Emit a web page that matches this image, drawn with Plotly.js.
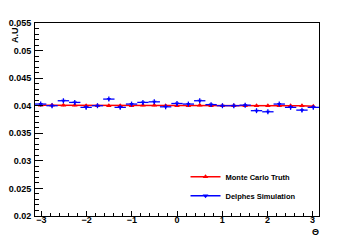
<!DOCTYPE html>
<html><head><meta charset="utf-8">
<script src="https://cdn.plot.ly/plotly-3.0.1.min.js"></script>
<style>html,body{margin:0;padding:0;background:#fff}#c{width:355px;height:240px}</style>
</head><body><div id="c"></div>
<script>
const binCenters = [-3.0159,-2.7646,-2.5133,-2.2619,-2.0106,-1.7593,-1.5080,-1.2566,-1.0053,-0.7540,-0.5027,-0.2513,0,0.2513,0.5027,0.7540,1.0053,1.2566,1.5080,1.7593,2.0106,2.2619,2.5133,2.7646,3.0159];
const binHalfWidth = [0.1257,0.1257,0.1257,0.1257,0.1257,0.1257,0.1257,0.1257,0.1257,0.1257,0.1257,0.1257,0.1257,0.1257,0.1257,0.1257,0.1257,0.1257,0.1257,0.1257,0.1257,0.1257,0.1257,0.1257,0.1257];
const mcTruth = [0.0401,0.0401,0.0401,0.0401,0.0400,0.0400,0.0400,0.0400,0.0400,0.0401,0.0401,0.0400,0.0400,0.0400,0.0401,0.0400,0.0400,0.0400,0.0400,0.0400,0.0400,0.0400,0.0400,0.0400,0.0399];
const mcErr = [0.0002,0.0002,0.0002,0.0002,0.0002,0.0002,0.0002,0.0002,0.0002,0.0002,0.0002,0.0002,0.0002,0.0002,0.0002,0.0002,0.0002,0.0002,0.0002,0.0002,0.0002,0.0002,0.0002,0.0002,0.0002];
const delphes = [0.0403,0.0400,0.0409,0.0406,0.0397,0.0400,0.0412,0.0397,0.0403,0.0406,0.0407,0.0398,0.0404,0.0403,0.0409,0.0402,0.0400,0.0400,0.0401,0.0391,0.0389,0.0403,0.0397,0.0392,0.0397];
const delphesErr = [0.00045,0.00045,0.00045,0.00045,0.00045,0.00045,0.00045,0.00045,0.00045,0.00045,0.00045,0.00045,0.00045,0.00045,0.00045,0.00045,0.00045,0.00045,0.00045,0.00045,0.00045,0.00045,0.00045,0.00045,0.00045];
const seriesNames = ['Monte Carlo Truth','Delphes Simulation'];
const xTicks = [-3,-2,-1,0,1,2,3];
const yTicks = [0.02,0.025,0.03,0.035,0.04,0.045,0.05,0.055];
const yTickText = ['0.02','0.025','0.03','0.035','0.04','0.045','0.05','0.055'];

const F = {family:'Liberation Sans, Arial, sans-serif', size:9, color:'#000', weight:'bold'};

const traces = [
 {x:binCenters, y:mcTruth, name:seriesNames[0], type:'scatter', mode:'lines+markers',
  line:{color:'#ff0000', width:1.5}, marker:{symbol:'triangle-up', size:5, color:'#ff0000'},
  error_y:{type:'data', array:mcErr, color:'#ff0000', thickness:1, width:0}},
 {x:binCenters, y:delphes, name:seriesNames[1], type:'scatter', mode:'markers', showlegend:false,
  marker:{symbol:'triangle-down', size:4, color:'#0000ff'},
  error_x:{type:'data', array:binHalfWidth, color:'#0000ff', thickness:1.3, width:0},
  error_y:{type:'data', array:delphesErr, color:'#0000ff', thickness:1.3, width:0}},
 {x:[null], y:[null], name:seriesNames[1], type:'scatter', mode:'lines+markers', showlegend:true,
  line:{color:'#0000ff', width:1.5}, marker:{symbol:'triangle-down', size:5, color:'#0000ff'}}
];

const layout = {
 width:355, height:240,
 margin:{l:35, r:36, t:23, b:24, pad:0},
 paper_bgcolor:'#fff', plot_bgcolor:'#fff',
 font:F,
 showlegend:true,
 legend:{x:0.53, y:0.278, xanchor:'left', yanchor:'top', bgcolor:'rgba(0,0,0,0)',
   font:{family:F.family, size:7.5, color:'#000', weight:'bold'}, itemwidth:30, tracegroupgap:0},
 xaxis:{range:[-3.1416,3.1416], tickvals:xTicks, ticks:'inside', ticklen:5, tickcolor:'#000', tickwidth:1,
   showline:true, linecolor:'#000', linewidth:1, mirror:true, showgrid:false, zeroline:false,
   minor:{dtick:0.2, ticks:'inside', ticklen:3, tickcolor:'#000', showgrid:false},
   tickfont:F, ticklabelstandoff:-5},
 yaxis:{range:[0.02,0.055], tickvals:yTicks, ticktext:yTickText, ticks:'inside', ticklen:8, tickcolor:'#000', tickwidth:1,
   showline:true, linecolor:'#000', linewidth:1, mirror:true, showgrid:false, zeroline:false,
   minor:{dtick:0.001, ticks:'inside', ticklen:4, tickcolor:'#000', showgrid:false},
   tickfont:F, ticklabelstandoff:1},
 annotations:[
  {text:'A.U.', xref:'paper', yref:'paper', x:-0.095, y:1, xanchor:'left', yanchor:'top', textangle:-90,
   showarrow:false, font:F},
  {text:'Θ', xref:'paper', yref:'paper', x:0.986, y:-0.083, xanchor:'center', yanchor:'middle',
   showarrow:false, font:F}
 ]
};
Plotly.newPlot('c', traces, layout, {staticPlot:true, displayModeBar:false});
</script></body></html>
